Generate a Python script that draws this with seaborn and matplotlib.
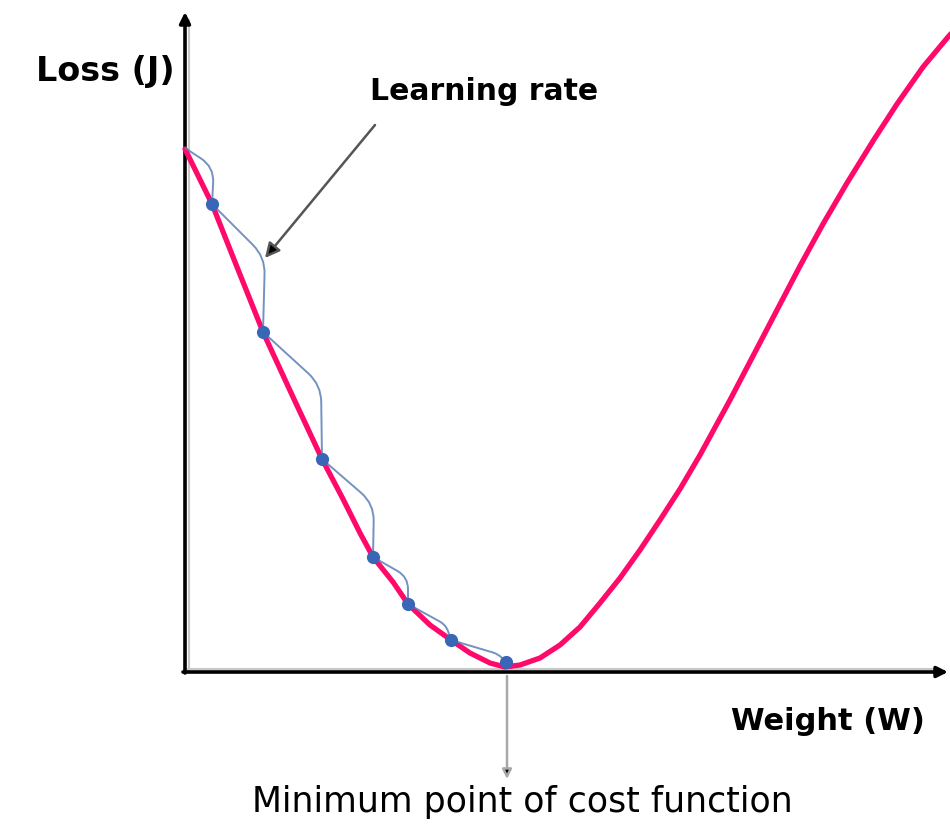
import numpy as np
import pandas as pd
import matplotlib
matplotlib.use("Agg")
import matplotlib.pyplot as plt
from matplotlib.path import Path
from matplotlib.patches import PathPatch
import seaborn as sns

# ---- data (Weight W, Loss J) ----
curve_w = [0.00, 0.27, 0.52, 0.78, 1.08, 1.37, 1.58, 1.75, 1.88, 2.08, 2.23, 2.45, 2.66,
           2.85, 3.05, 3.20, 3.35, 3.55, 3.75, 3.95, 4.15, 4.35, 4.55, 4.75, 4.95, 5.15,
           5.45, 5.68, 5.92, 6.15, 6.38, 6.62, 6.88, 7.12, 7.38, 7.63, 7.80]
curve_j = [5.21, 4.66, 4.03, 3.38, 2.73, 2.11, 1.71, 1.37, 1.13, 0.88, 0.66, 0.45, 0.30,
           0.17, 0.07, 0.03, 0.05, 0.12, 0.25, 0.43, 0.67, 0.92, 1.20, 1.50, 1.81, 2.15,
           2.70, 3.14, 3.60, 4.04, 4.46, 4.87, 5.29, 5.66, 6.03, 6.33, 6.52]

step_w = [0.27, 0.78, 1.37, 1.88, 2.23, 2.66, 3.21]
step_j = [4.66, 3.38, 2.11, 1.13, 0.66, 0.30, 0.08]

start_w, start_j = 0.00, 5.22
knee_w = [0.29, 0.80, 1.36, 1.89, 2.23, 2.61, 3.13]
knee_j = [5.03, 4.13, 2.85, 1.66, 0.93, 0.45, 0.16]

y_label = "Loss (J)"
x_label = "Weight (W)"
lr_label = "Learning rate"
min_label = "Minimum point of cost function"

sns.set_theme(style="white")
plt.rcParams["font.family"] = ["DejaVu Sans"]

fig = plt.figure(figsize=(9.5, 8.25), dpi=100)
ax = fig.add_axes([0, 0, 1, 1])
ax.set_xlim(-1.85, 7.65)
ax.set_ylim(-1.55, 6.70)
ax.set_axis_off()

# axes with arrows (gray shadow + black line)
ax.plot([0.04, 0.04], [0.0, 6.50], color="#c8c8c8", lw=1.5, zorder=1)
ax.plot([0.0, 7.55], [0.015, 0.015], color="#c8c8c8", lw=1.5, zorder=1)
ax.annotate("", xy=(0.0, 6.58), xytext=(0.0, -0.03),
            arrowprops=dict(arrowstyle="-|>", fc="black", ec="black", lw=2.6,
                            mutation_scale=16, shrinkA=0, shrinkB=0), zorder=2)
ax.annotate("", xy=(7.63, -0.02), xytext=(-0.02, -0.02),
            arrowprops=dict(arrowstyle="-|>", fc="black", ec="black", lw=2.6,
                            mutation_scale=16, shrinkA=0, shrinkB=0), zorder=2)

# loss curve
df = pd.DataFrame({"W": curve_w, "J": curve_j})
sns.lineplot(data=df, x="W", y="J", sort=False, ax=ax, color="#ff0a6a", lw=3.8,
             zorder=3, solid_capstyle="round", solid_joinstyle="round")

# learning-rate steps
starts = [(start_w, start_j)] + list(zip(step_w[:-1], step_j[:-1]))
ends = list(zip(step_w, step_j))
knees = list(zip(knee_w, knee_j))
verts, codes = [], []
r = 0.17
for p, k, q in zip(starts, knees, ends):
    p, k, q = np.array(p), np.array(k), np.array(q)
    u1 = (p - k) / np.linalg.norm(p - k)
    u2 = (q - k) / np.linalg.norm(q - k)
    rr = min(r, 0.45 * np.linalg.norm(p - k), 0.45 * np.linalg.norm(q - k))
    a = k + rr * u1
    b = k + rr * u2
    verts += [tuple(p), tuple(a), tuple(k), tuple(b), tuple(q)]
    codes += [Path.MOVETO, Path.LINETO, Path.CURVE3, Path.CURVE3, Path.LINETO]
ax.add_patch(PathPatch(Path(verts, codes), facecolor="none", edgecolor="#5b7fb8",
                       lw=1.4, alpha=0.85, zorder=4))

sdf = pd.DataFrame({"W": step_w, "J": step_j})
sns.scatterplot(data=sdf, x="W", y="J", ax=ax, color="#3a66b8", s=90,
                edgecolor="#3a66b8", linewidth=0, zorder=5)

ax.set_xlabel("")
ax.set_ylabel("")

# annotations
ax.annotate("", xy=(0.80, 4.12), xytext=(1.90, 5.45),
            arrowprops=dict(arrowstyle="-|>", lw=1.8, mutation_scale=22,
                            shrinkA=0, shrinkB=0, fc="black", ec="#555555"),
            zorder=6)
ax.annotate("", xy=(3.22, -1.09), xytext=(3.22, -0.06),
            arrowprops=dict(arrowstyle="-|>", lw=1.8, mutation_scale=14,
                            shrinkA=0, shrinkB=0, fc="black", ec="#a8a8a8"),
            zorder=6)

ax.text(-0.80, 5.98, y_label, ha="center", va="center", fontsize=24,
        fontweight="bold", color="black")
ax.text(2.99, 5.79, lr_label, ha="center", va="center", fontsize=21.5,
        fontweight="bold", color="black")
ax.text(6.43, -0.52, x_label, ha="center", va="center", fontsize=22,
        fontweight="bold", color="black")
ax.text(3.37, -1.32, min_label, ha="center", va="center", fontsize=25,
        color="black")

fig.savefig("out.png", dpi=100, facecolor="white")
